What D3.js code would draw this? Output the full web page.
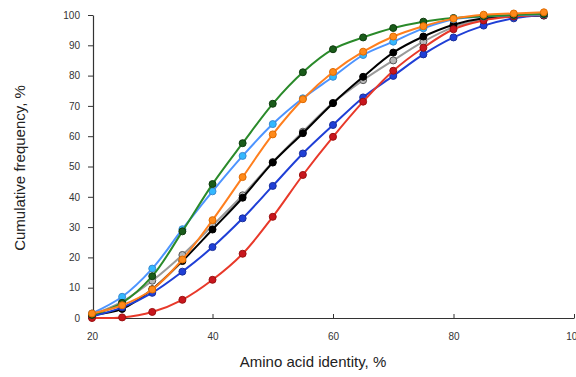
<!DOCTYPE html>
<html><head><meta charset="utf-8">
<script src="https://cdn.jsdelivr.net/npm/d3@7"></script>
<style>body{margin:0;background:#fff}svg{display:block;font-family:"Liberation Sans",Arial,sans-serif}</style>
</head><body><svg id="c" width="576" height="377"></svg>
<script>
const identity = [20,25,30,35,40,45,50,55,60,65,70,75,80,85,90,95];
const grayVals   = [1,5.4,12.3,20.8,30.5,40.5,51.5,61.5,71,78.5,85,91.2,96,98.5,99.5,100];
const blackVals  = [1,3,9.5,18.8,29.2,39.7,51.3,61,70.9,79.6,87.6,92.9,96.8,98.9,99.5,99.8];
const blueVals   = [0.5,3.5,8.3,15.3,23.4,32.9,43.6,54.3,63.7,72.8,79.9,87,92.6,96.5,98.9,100];
const redVals    = [0,0.2,2,6,12.6,21.2,33.4,47.2,59.8,71.4,81.6,89.2,95.3,98.2,99.5,100];
const ltBlueVals = [1.5,7,16.3,29.3,41.8,53.5,64,72.5,79.6,86.8,91.2,95.6,98.6,99.5,100,100.2];
const greenVals  = [1,5,13.8,28.6,44.2,57.7,70.7,81.1,88.7,92.6,95.7,97.8,99,99.6,100,100.3];
const orangeVals = [1.5,4.2,9.4,19.3,32.3,46.5,60.6,72.2,81.2,87.9,92.9,96.3,98.8,100.1,100.5,100.9];
const xTicks = [20,40,60,80,100];
const yTicks = [0,10,20,30,40,50,60,70,80,90,100];

const series = [
  {vals: grayVals,   line:"#9a9a9a", fill:"#b8b8b8", stroke:"#555"},
  {vals: blackVals,  line:"#000000", fill:"#000000", stroke:"#000"},
  {vals: blueVals,   line:"#1f3fd6", fill:"#1f3fd6", stroke:"#1a2f9a"},
  {vals: redVals,    line:"#e8392a", fill:"#c8161d", stroke:"#9a1010"},
  {vals: ltBlueVals, line:"#4d94ff", fill:"#33b8ff", stroke:"#3a8ad0"},
  {vals: greenVals,  line:"#2a8a2a", fill:"#1a5c1a", stroke:"#0e3a0e"},
  {vals: orangeVals, line:"#ff7f1e", fill:"#ff8a1a", stroke:"#e06a00"}
];

const svg = d3.select("#c");
const x = d3.scaleLinear().domain([20,100]).range([92,574]);
const y = d3.scaleLinear().domain([0,100]).range([318,15]);

const xAxis = svg.append("g").attr("transform","translate(0,318)")
  .call(d3.axisBottom(x).tickValues(xTicks).tickSize(5).tickSizeOuter(0).tickPadding(10));
const yAxis = svg.append("g").attr("transform","translate(93,0)")
  .call(d3.axisLeft(y).tickValues(yTicks).tickSize(5).tickSizeOuter(0).tickPadding(8));
[xAxis,yAxis].forEach(a=>{
  a.select(".domain").attr("stroke","#333").attr("stroke-width",1.2);
  a.selectAll(".tick line").attr("stroke","#333");
  a.selectAll("text").attr("fill","#333").attr("font-size","10px");
});
xAxis.selectAll(".tick line").attr("y1",-4).attr("y2",0);

const line = d3.line().x((d,i)=>x(identity[i])).y(d=>y(d)).curve(d3.curveCatmullRom.alpha(0.5));
series.forEach(s=>{
  svg.append("path").attr("d",line(s.vals)).attr("fill","none")
    .attr("stroke",s.line).attr("stroke-width",2);
  svg.append("g").selectAll("circle").data(s.vals).join("circle")
    .attr("cx",(d,i)=>x(identity[i])).attr("cy",d=>y(d)).attr("r",3.5)
    .attr("fill",s.fill).attr("stroke",s.stroke).attr("stroke-width",1);
});

svg.append("text").attr("x",313).attr("y",367).attr("text-anchor","middle")
  .attr("font-size","15px").attr("fill","#222").text("Amino acid identity, %");
svg.append("text").attr("transform","translate(25,168) rotate(-90)").attr("text-anchor","middle")
  .attr("font-size","15px").attr("fill","#222").text("Cumulative frequency, %");
</script></body></html>
